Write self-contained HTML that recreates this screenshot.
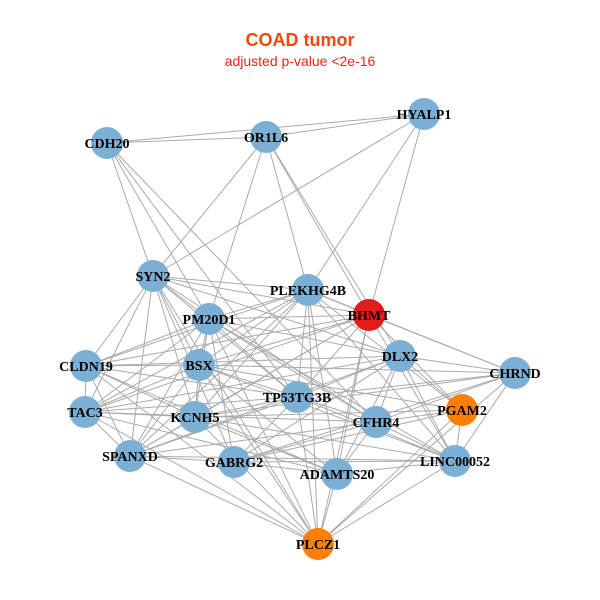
<!DOCTYPE html>
<html><head><meta charset="utf-8"><style>body{margin:0;background:#fff}svg{display:block}</style></head><body>
<svg id="s" width="600" height="600" xmlns="http://www.w3.org/2000/svg">
<text x="300" y="46" text-anchor="middle" font-family="Liberation Sans, sans-serif" font-weight="bold" font-size="18" fill="#f0480e">COAD tumor</text>
<text x="300" y="66" text-anchor="middle" font-family="Liberation Sans, sans-serif" font-size="14" fill="#e8261a">adjusted p-value &lt;2e-16</text>
<g id="e" stroke="#aaaaaa" stroke-width="1"></g><g id="n"></g>
</svg>
<script>
var N={HYALP1:[424,114],OR1L6:[266,137],CDH20:[107,143],SYN2:[153,276],PLEKHG4B:[308,290],BHMT:[369,315],PM20D1:[209,319],DLX2:[400,356],CHRND:[515,373],CLDN19:[86,366],BSX:[199,365],TP53TG3B:[297,397],CFHR4:[376,422],PGAM2:[462,410],TAC3:[85,412],KCNH5:[195,417],SPANXD:[130,456],GABRG2:[234,462],ADAMTS20:[337,474],LINC00052:[455,461],PLCZ1:[318,544]};
var topE=[["CDH20","OR1L6"],["CDH20","HYALP1"],["OR1L6","HYALP1"],["CDH20","SYN2"],["CDH20","PM20D1"],["CDH20","CFHR4"],["CDH20","TP53TG3B"],["OR1L6","SYN2"],["OR1L6","PM20D1"],["OR1L6","PLEKHG4B"],["OR1L6","BHMT"],["HYALP1","SYN2"],["HYALP1","PLEKHG4B"],["HYALP1","BHMT"],["OR1L6","DLX2"]];
var ns='http://www.w3.org/2000/svg',ee=document.getElementById('e'),gg=document.getElementById('n');
function L(a,b){var l=document.createElementNS(ns,'line');l.setAttribute('x1',N[a][0]);l.setAttribute('y1',N[a][1]);l.setAttribute('x2',N[b][0]);l.setAttribute('y2',N[b][1]);ee.appendChild(l);}
topE.forEach(function(p){L(p[0],p[1]);});
var low=Object.keys(N).filter(function(k){return ["HYALP1","OR1L6","CDH20"].indexOf(k)<0;});
var cnt=0;
for(var a=0;a<low.length;a++)for(var b=a+1;b<low.length;b++){var A=N[low[a]],B=N[low[b]];var d=Math.hypot(A[0]-B[0],A[1]-B[1]);cnt++;if(d<330&&(cnt%5!=0))L(low[a],low[b]);}
for(var k in N){var c=document.createElementNS(ns,'circle');c.setAttribute('cx',N[k][0]);c.setAttribute('cy',N[k][1]);c.setAttribute('r',16);c.setAttribute('fill',k=="BHMT"?"#e41a1c":(k=="PGAM2"||k=="PLCZ1")?"#ff7f00":"#7bafd4");gg.appendChild(c);}
for(var k in N){var t=document.createElementNS(ns,'text');t.setAttribute('x',N[k][0]);t.setAttribute('y',N[k][1]+5);t.setAttribute('text-anchor','middle');t.setAttribute('font-family','Liberation Serif, serif');t.setAttribute('font-weight','bold');t.setAttribute('font-size','14');t.textContent=k;gg.appendChild(t);}
</script>
</body></html>
